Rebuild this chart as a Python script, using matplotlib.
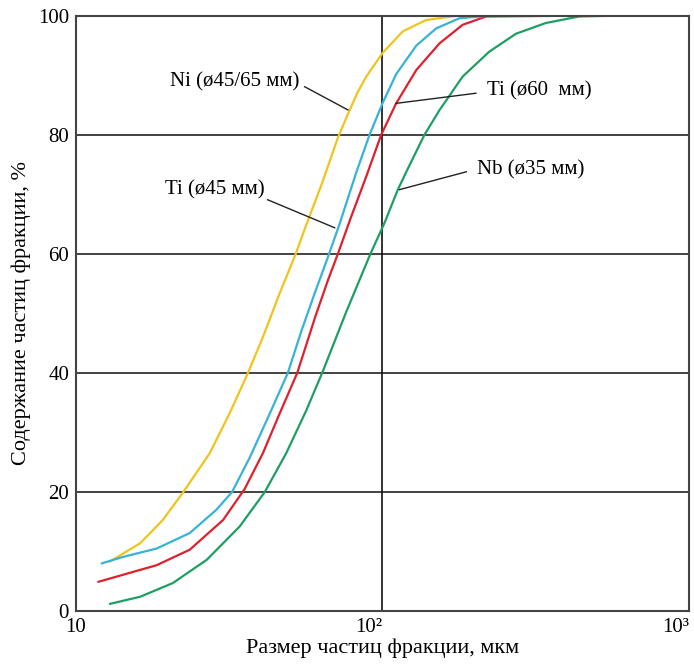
import numpy as np
import matplotlib.pyplot as plt

plt.rcParams['font.family'] = ['Liberation Serif', 'DejaVu Serif']

# particle size, um  /  fraction content, %
ni_x = [12.9, 16.2, 19.2, 22.4, 27.3, 31.7, 36.4, 40.7, 46.2, 52.1, 56.5, 63.1,
        71.5, 77.1, 82.5, 88.5, 100.2, 116.5, 138.7, 173.8, 250, 360]
ni_y = [8.3, 11.4, 15.3, 20.0, 26.5, 33.2, 40.0, 46.0, 53.4, 60.0, 65.0, 71.5,
        79.5, 83.5, 86.9, 89.8, 93.8, 97.4, 99.3, 100, 100, 100]

ti45_x = [12.13, 14.26, 18.33, 23.5, 28.7, 32.3, 36.9, 42.9, 49.1, 54.5, 60.1,
          66.4, 72.4, 82.0, 90.7, 100.2, 110.8, 128.9, 149.7, 178.3, 220]
ti45_y = [8.0, 9.1, 10.5, 13.1, 17.0, 20.0, 25.8, 33.2, 40.0, 47.2, 53.4,
          59.5, 65.0, 73.6, 80.0, 85.4, 90.2, 95.0, 97.9, 99.6, 100]

ti60_x = [11.82, 14.26, 18.33, 23.5, 30.2, 35.5, 40.7, 46.2, 52.7, 60.4, 66.4,
          71.5, 79.1, 88.5, 99.0, 110.8, 128.9, 153.6, 182.6, 217.8, 360]
ti60_y = [4.9, 6.1, 7.7, 10.3, 15.3, 20.5, 26.5, 33.2, 40.0, 49.5, 55.6,
          60.0, 66.3, 73.0, 80.0, 85.3, 90.9, 95.4, 98.5, 99.9, 100]

nb_x = [12.9, 16.2, 20.7, 26.7, 34.2, 41.3, 48.5, 56.4, 63.9, 76.2, 91.3, 101.5,
        112.2, 120.9, 137, 153.6, 182.6, 223.2, 272.6, 341, 438, 535]
nb_y = [1.2, 2.4, 4.7, 8.6, 14.2, 20.0, 26.5, 33.7, 40.3, 50.3, 60.0, 65.2,
        70.8, 74.3, 80.0, 84.2, 89.8, 94.0, 97.0, 98.8, 99.9, 100]

# label text, text anchor, leader line (start, end)
labels = ['Ni (ø45/65 мм)', 'Ti (ø45 мм)', 'Ti (ø60  мм)', 'Nb (ø35 мм)']
label_pos = [(53.7, 88.9), (41.3, 70.8), (219.8, 87.4), (203.7, 74.1)]
label_ha = ['right', 'right', 'left', 'left']
lead_from = [(55.7, 88.1), (42.2, 69.1), (201.7, 87.0), (187.7, 73.8)]
lead_to = [(77.1, 84.2), (69.8, 64.4), (110.8, 85.3), (113.6, 70.8)]

fig = plt.figure(figsize=(6.94, 6.64), dpi=100)
ax = fig.add_axes([0.1095, 0.0798, 0.8833, 0.8963])

kw = dict(lw=1.6, solid_joinstyle='round', solid_capstyle='round')
ax.plot(ni_x, ni_y, color='#f0c41c', **kw)
ax.plot(nb_x, nb_y, color='#1e9f62', **kw)
ax.plot(ti60_x, ti60_y, color='#e0202c', **kw)
ax.plot(ti45_x, ti45_y, color='#36b3d6', **kw)

for yy in [20, 40, 60, 80]:
    ax.axhline(yy, color='#222222', lw=1.2, zorder=0)
ax.axvline(100, color='#111111', lw=1.2, zorder=0)

for t, p, ha, a, b in zip(labels, label_pos, label_ha, lead_from, lead_to):
    ax.text(p[0], p[1], t, ha=ha, va='center', fontsize=15)
    ax.plot([a[0], b[0]], [a[1], b[1]], color='#222222', lw=1.0)

ax.set_xscale('log')
ax.set_xlim(10, 1000)
ax.set_ylim(0, 100)
ax.set_xticks([10, 100, 1000])
ax.set_xticklabels(['10', '10²', '10³'])
ax.set_yticks([0, 20, 40, 60, 80, 100])
ax.minorticks_off()
ax.tick_params(length=0, labelsize=15, pad=5)
for lab, ha in zip(ax.get_xticklabels(), ['center', 'right', 'right']):
    lab.set_horizontalalignment(ha)

for s in ax.spines.values():
    s.set_color('#444444')
    s.set_linewidth(1.5)

ax.set_xlabel('Размер частиц фракции, мкм', fontsize=16, labelpad=1)
ax.set_ylabel('Содержание частиц фракции, %', fontsize=16, labelpad=5)

fig.savefig('out.png', dpi=100)
